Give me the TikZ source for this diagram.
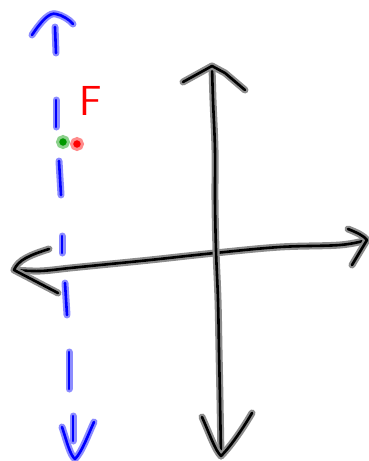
\documentclass[tikz,border=0pt]{standalone}
\usepackage{tikz}

\begin{document}
\begin{tikzpicture}[
        x=1pt, y=-1pt,
        tinta/.style={line width=2.6pt, line cap=round, line join=round,
            preaction={draw, line width=7pt, line cap=round, line join=round, color=#1!45}},
        tintapreta/.style={tinta=black, draw=black},
        tintaazul/.style={tinta=blue, draw=blue},
        ponto/.style={circle, inner sep=0pt, minimum size=11pt, fill=#1, draw=#1!45, line width=3pt},
        letra/.style={text=red, font=\fontsize{42}{42}\selectfont\sffamily, inner sep=0pt}
    ]
        \useasboundingbox (0,0) rectangle (368,461);

        % Pontos das setas
        \coordinate (esq) at (14,270);
        \coordinate (dir) at (367,240);
        \coordinate (topo) at (212,66);
        \coordinate (base) at (221,456);

        % Eixo horizontal
        \draw[tintapreta] plot[smooth, tension=0.6] coordinates {(esq) (40,271) (70,268) (100,265) (150,260) (215,253) (280,247) (340,245) (dir)};
        \draw[tintapreta] (49,249) .. controls (30,255) and (18,260) .. (esq) -- (58,293);
        \draw[tintapreta] (348,229) .. controls (358,233) and (364,236) .. (dir) -- (352,265);

        % Eixo vertical
        \draw[tintapreta] plot[smooth, tension=0.6] coordinates {(topo) (213,100) (215,150) (215,200) (216,250) (218,300) (219,350) (220,400) (base)};
        \draw[tintapreta] (183,82) -- (topo) -- (225,73) -- (245,90);
        \draw[tintapreta] (202,417) .. controls (210,435) and (215,450) .. (base) .. controls (232,445) and (245,425) .. (252,413);

        % Linha tracejada azul
        \draw[tintaazul] (32,35) .. controls (42,20) and (50,12) .. (56,14) .. controls (62,15) and (70,20) .. (73,24);
        \foreach \ya/\yb/\xa/\xb in {27/53/55/56, 100/127/56/56, 161/195/59/61, 236/253/62/62, 283/315/65/67, 352/389/69/69, 416/441/73/73}
            \draw[tintaazul] (\xa,\ya) -- (\xb,\yb);
        \draw[tintaazul] (62,427) .. controls (67,442) and (70,455) .. (75,459) .. controls (82,452) and (88,435) .. (94,422);

        % Rótulo e pontos
        \node[letra] (forca) at (91,101) {F};
        \node[ponto=green!60!black] (verde) at (63,142) {};
        \node[ponto=red] (vermelho) at (77,144) {};
    \end{tikzpicture}
\end{document}
